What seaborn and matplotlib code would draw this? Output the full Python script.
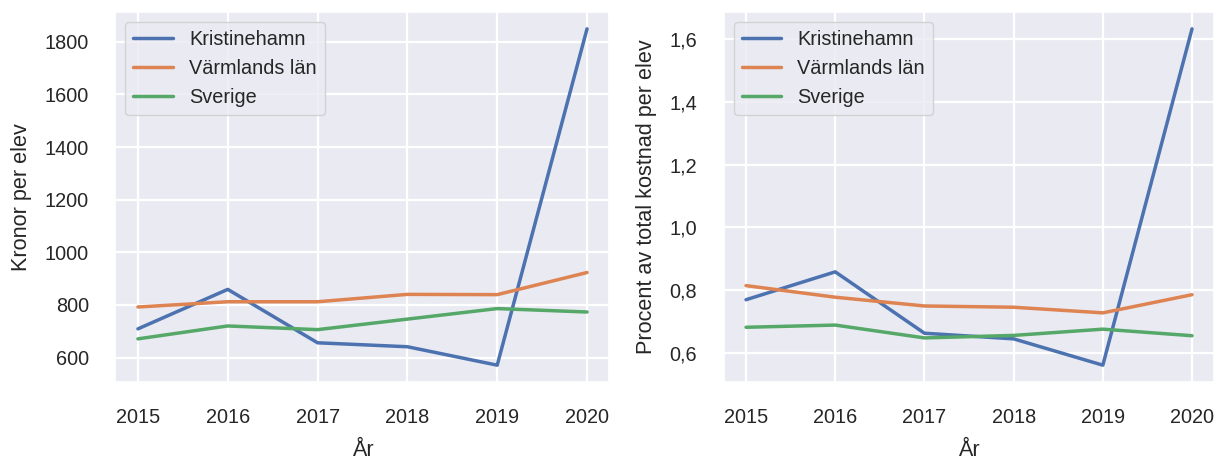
import matplotlib
matplotlib.use("Agg")
import matplotlib.pyplot as plt
import matplotlib.ticker as mticker
import seaborn as sns
import pandas as pd

years = [2015, 2016, 2017, 2018, 2019, 2020]
regions = ["Kristinehamn", "Värmlands län", "Sverige"]

kronor_kristinehamn = [709, 859, 656, 641, 571, 1849]
kronor_varmland = [792, 812, 812, 840, 839, 923]
kronor_sverige = [671, 720, 706, 746, 786, 773]

procent_kristinehamn = [0.769, 0.858, 0.662, 0.644, 0.560, 1.634]
procent_varmland = [0.814, 0.777, 0.749, 0.745, 0.727, 0.785]
procent_sverige = [0.681, 0.688, 0.647, 0.655, 0.675, 0.654]


def long_df(a, b, c):
    rows = []
    for name, vals in zip(regions, [a, b, c]):
        for y, v in zip(years, vals):
            rows.append({"År": y, "Region": name, "Värde": v})
    return pd.DataFrame(rows)


df1 = long_df(kronor_kristinehamn, kronor_varmland, kronor_sverige)
df2 = long_df(procent_kristinehamn, procent_varmland, procent_sverige)

sns.set_theme(style="darkgrid", font_scale=1.3,
              rc={"grid.linewidth": 1.6,
                  "xtick.major.pad": 13.0,
                  "ytick.major.pad": 13.0,
                  "axes.labelpad": 9.0})
plt.rcParams["font.family"] = ["Liberation Sans", "DejaVu Sans"]

fig, axes = plt.subplots(1, 2, figsize=(12.17, 4.59), dpi=100)

sns.lineplot(data=df1, x="År", y="Värde", hue="Region", ax=axes[0], linewidth=2.5)
axes[0].set_ylabel("Kronor per elev")
axes[0].set_xlabel("År")
axes[0].legend(loc="upper left")

sns.lineplot(data=df2, x="År", y="Värde", hue="Region", ax=axes[1], linewidth=2.5)
axes[1].set_ylabel("Procent av total kostnad per elev")
axes[1].set_xlabel("År")
axes[1].legend(loc="upper left")
axes[1].yaxis.set_major_formatter(
    mticker.FuncFormatter(lambda v, p: f"{v:.1f}".replace(".", ","))
)

for ax in axes:
    ax.set_xticks(years)

axes[0].set_position([0.0949, 0.1678, 0.4059, 0.806])
axes[1].set_position([0.5947, 0.1678, 0.4031, 0.806])
fig.savefig("out.png", dpi=100)
